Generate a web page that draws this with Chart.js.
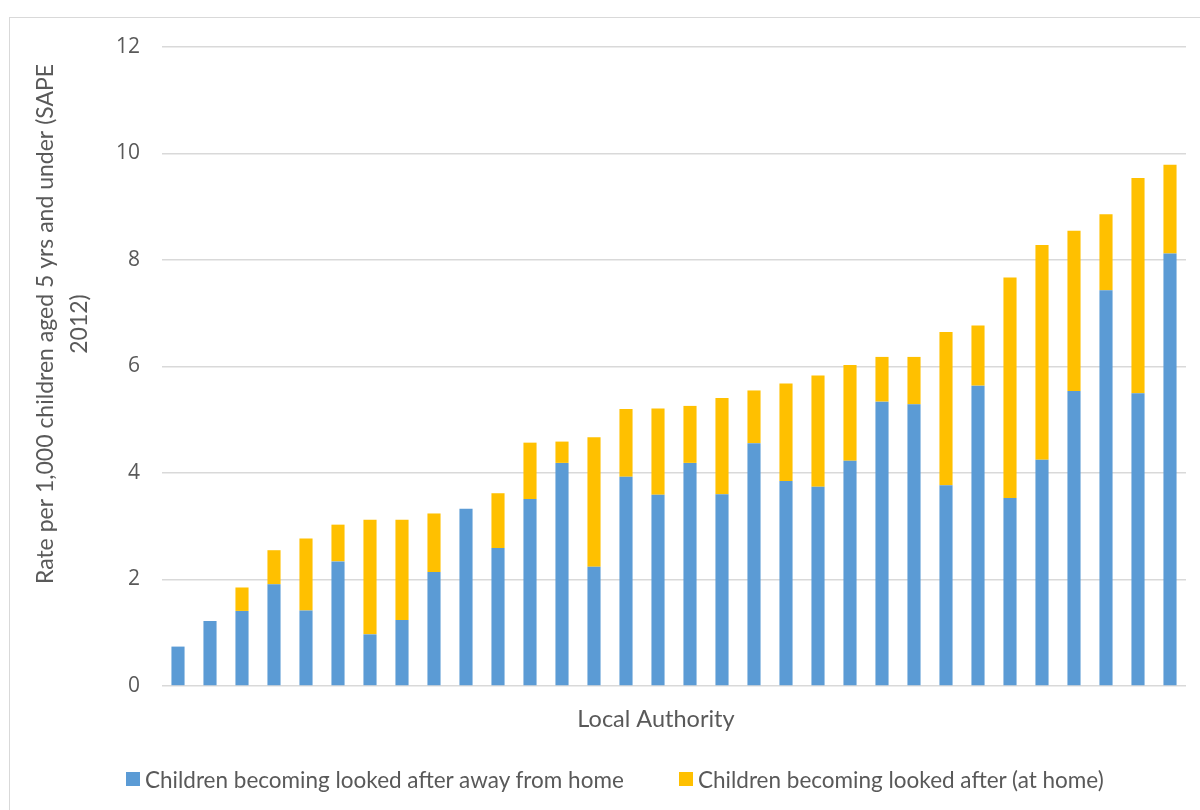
<!DOCTYPE html>
<html>
<head>
<meta charset="utf-8">
<script src="https://cdn.jsdelivr.net/npm/chart.js@4.4.1/dist/chart.umd.min.js"></script>
<style>
  html, body { margin: 0; padding: 0; background: #ffffff; }
  #wrap { position: relative; width: 1200px; height: 810px; overflow: hidden; background: #fff; }
  #frame { position: absolute; left: 9px; top: 17px; width: 1200px; height: 800px;
           border-left: 1px solid #d9d9d9; border-top: 1px solid #d9d9d9; box-sizing: border-box; }
  canvas { position: absolute; left: 0; top: 0; }
  #legend { position: absolute; top: 765px; left: 0; width: 1200px; height: 28px;
            font-family: Lato, "Open Sans", sans-serif; font-size: 22.5px; color: #595959; }
  .item { position: absolute; top: 0; height: 28px; display: flex; align-items: center; white-space: nowrap; }
  .box { width: 14px; height: 14px; margin-right: 5px; }
</style>
</head>
<body>
<div id="wrap">
  <div id="frame"></div>
  <canvas id="c" width="1200" height="810"></canvas>
  <div id="legend"></div>
</div>
<script>
// ---- data ----
const categories = ["LA1","LA2","LA3","LA4","LA5","LA6","LA7","LA8","LA9","LA10","LA11","LA12","LA13","LA14","LA15","LA16",
                    "LA17","LA18","LA19","LA20","LA21","LA22","LA23","LA24","LA25","LA26","LA27","LA28","LA29","LA30","LA31","LA32"];
const awayFromHome = [0.74,1.22,1.41,1.91,1.42,2.34,0.97,1.24,2.14,3.33,2.59,3.51,4.19,2.24,3.93,3.59,
                      4.19,3.60,4.56,3.85,3.74,4.23,5.34,5.29,3.77,5.64,3.53,4.25,5.54,7.43,5.50,8.12];
const atHome = [0,0,0.44,0.64,1.35,0.69,2.15,1.88,1.10,0,1.03,1.06,0.40,2.43,1.27,1.62,
                1.07,1.81,0.99,1.83,2.09,1.80,0.84,0.89,2.88,1.13,4.14,4.03,3.01,1.43,4.04,1.67];
const seriesNames = ["Children becoming looked after away from home", "Children becoming looked after (at home)"];
const yTicks = [0, 2, 4, 6, 8, 10, 12];
const yTitleLines = ["Rate per 1,000 children aged 5 yrs and under (SAPE", "2012)"];
const xTitle = "Local Authority";

const BLUE = "#5B9BD5", GOLD = "#FFC000", TEXT = "#595959", GRID = "#D9D9D9";
const TEXT_FONT = 'Lato, "Open Sans", sans-serif';

const titlesPlugin = {
  id: "titles",
  afterDraw(chart) {
    const ctx = chart.ctx;
    const area = chart.chartArea;
    ctx.save();
    ctx.fillStyle = TEXT;
    // y title (rotated, two lines)
    ctx.font = "23px " + TEXT_FONT;
    ctx.textAlign = "center";
    ctx.textBaseline = "alphabetic";
    const yc = 324;
    const baselines = [53, 87];
    yTitleLines.forEach((line, i) => {
      ctx.save();
      ctx.translate(baselines[i], yc);
      ctx.rotate(-Math.PI / 2);
      ctx.fillText(line, 0, 0);
      ctx.restore();
    });
    // x title
    ctx.font = "23.5px " + TEXT_FONT;
    ctx.textAlign = "center";
    ctx.fillText(xTitle, 656, area.bottom + 41);
    ctx.restore();
  }
};

const chart = new Chart(document.getElementById("c"), {
  type: "bar",
  data: {
    labels: categories,
    datasets: [
      { label: seriesNames[0], data: awayFromHome, backgroundColor: BLUE, stack: "s",
        barPercentage: 0.41, categoryPercentage: 1.0, borderWidth: 0 },
      { label: seriesNames[1], data: atHome, backgroundColor: GOLD, stack: "s",
        barPercentage: 0.41, categoryPercentage: 1.0, borderWidth: 0 }
    ]
  },
  options: {
    responsive: false,
    animation: false,
    devicePixelRatio: 1,
    layout: { padding: { top: 47, right: 14, bottom: 124, left: 0 } },
    plugins: { legend: { display: false }, tooltip: { enabled: false } },
    scales: {
      x: {
        stacked: true,
        grid: { display: false, drawTicks: false },
        border: { display: false },
        ticks: { display: false }
      },
      y: {
        stacked: true,
        min: 0, max: 12,
        afterBuildTicks: (scale) => { scale.ticks = yTicks.map(v => ({ value: v })); },
        afterFit: (scale) => { scale.width = 162; },
        grid: { color: GRID, lineWidth: 1.6, drawTicks: false },
        border: { display: false },
        ticks: { color: TEXT, padding: 22, font: { family: '"Open Sans", sans-serif', size: 21 } }
      }
    }
  },
  plugins: [titlesPlugin]
});

// HTML legend built from the chart's datasets
const legendEl = document.getElementById("legend");
const legendLefts = [126, 679];
chart.data.datasets.forEach((ds, i) => {
  const item = document.createElement("div");
  item.className = "item";
  item.style.left = legendLefts[i] + "px";
  const box = document.createElement("span");
  box.className = "box";
  box.style.background = ds.backgroundColor;
  const txt = document.createElement("span");
  txt.textContent = ds.label;
  item.appendChild(box);
  item.appendChild(txt);
  legendEl.appendChild(item);
});
</script>
</body>
</html>
